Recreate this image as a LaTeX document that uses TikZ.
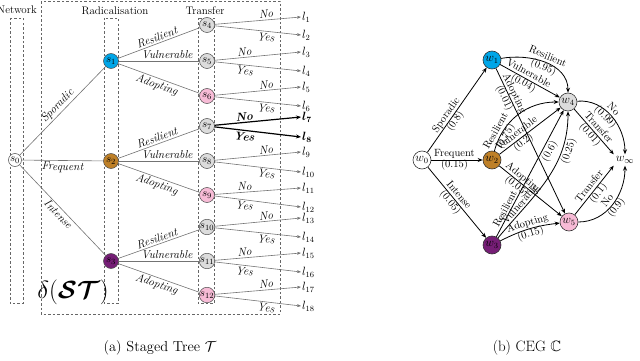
\documentclass[tikz,border=0pt]{standalone}
\usepackage{amsmath,amssymb,bm}
\usetikzlibrary{arrows.meta}
\definecolor{cyanN}{RGB}{0,166,232}
\definecolor{brownN}{RGB}{190,128,40}
\definecolor{purpN}{RGB}{118,30,118}
\definecolor{pinkN}{RGB}{247,187,214}
\definecolor{grayN}{RGB}{220,220,220}
\begin{document}
\begin{tikzpicture}[x=1pt,y=-1pt,
  tn/.style={circle,draw=black!70,line width=0.5pt,minimum size=15pt,inner sep=0pt,font=\fontsize{11}{12}\selectfont},
  te/.style={draw=black!55,line width=0.6pt},
  le/.style={draw=black!55,line width=0.6pt,-{Stealth[length=4pt,width=3pt]}},
  be/.style={draw=black,line width=1.2pt,-{Stealth[length=5pt,width=4pt]}},
  tl/.style={font=\fontsize{11.5}{12}\selectfont\itshape,sloped,inner sep=1.5pt},
  tlb/.style={font=\fontsize{11.5}{12}\selectfont\bfseries\itshape,sloped,inner sep=1.5pt},
  lf/.style={anchor=west,inner sep=1pt,font=\fontsize{12}{13}\selectfont},
  boxd/.style={draw=black!60,line width=0.5pt,dash pattern=on 2.5pt off 2pt},
  hd/.style={font=\fontsize{11}{12}\selectfont},
  cn/.style={circle,draw=black!80,line width=0.6pt,minimum size=18pt,inner sep=0pt,font=\fontsize{11.5}{12}\selectfont},
  ce/.style={draw=black,line width=0.8pt,-{Stealth[length=5pt,width=4pt]}},
  cl/.style={font=\fontsize{10.5}{11}\selectfont,sloped,align=center,inner sep=0.5pt}
]
\useasboundingbox (0,0) rectangle (640,361);
% dashed boxes
\draw[boxd] (10,18) rectangle (23,303);
\draw[boxd] (41,1.5) rectangle (280,314);
\draw[boxd] (104,18) rectangle (118,303);
\draw[boxd] (198,18) rectangle (214,303);
\node[hd] (hnet) at (17,10) {Network};
\node[hd] (hrad) at (115,11) {Radicalisation};
\node[hd] (htr) at (205,11) {Transfer};
\node[font=\fontsize{25}{27}\selectfont] (delta) at (73,292) {$\delta(\bm{\mathcal{ST}})$};
% tree nodes
\node[tn,fill=white,minimum size=13pt] (s0) at (15,160) {$s_0$};
\node[tn,fill=cyanN] (s1) at (111,61) {$s_1$};
\node[tn,fill=brownN] (s2) at (111,161) {$s_2$};
\node[tn,fill=purpN] (s3) at (111,261) {$s_3$};
\node[tn,fill=grayN] (s4) at (207,25) {$s_4$};
\node[tn,fill=grayN] (s5) at (207,61) {$s_5$};
\node[tn,fill=pinkN] (s6) at (207,96) {$s_6$};
\node[tn,fill=grayN] (s7) at (207,126) {$s_7$};
\node[tn,fill=grayN] (s8) at (207,161) {$s_8$};
\node[tn,fill=pinkN] (s9) at (207,195) {$s_9$};
\node[tn,fill=grayN] (s10) at (207,227) {$s_{10}$};
\node[tn,fill=grayN] (s11) at (207,261) {$s_{11}$};
\node[tn,fill=pinkN] (s12) at (207,295) {$s_{12}$};
% leaves
\node[lf] (l1) at (301,17) {$l_1$};
\node[lf] (l2) at (301,35) {$l_2$};
\node[lf] (l3) at (301,52) {$l_3$};
\node[lf] (l4) at (301,71) {$l_4$};
\node[lf] (l5) at (301,87) {$l_5$};
\node[lf] (l6) at (301,106) {$l_6$};
\node[lf] (l7) at (301,117) {$\bm{l_7}$};
\node[lf] (l8) at (301,137) {$\bm{l_8}$};
\node[lf] (l9) at (301,152) {$l_9$};
\node[lf] (l10) at (301,172) {$l_{10}$};
\node[lf] (l11) at (301,188) {$l_{11}$};
\node[lf] (l12) at (301,207) {$l_{12}$};
\node[lf] (l13) at (301,218) {$l_{13}$};
\node[lf] (l14) at (301,237) {$l_{14}$};
\node[lf] (l15) at (301,253) {$l_{15}$};
\node[lf] (l16) at (301,272) {$l_{16}$};
\node[lf] (l17) at (301,287) {$l_{17}$};
\node[lf] (l18) at (301,306) {$l_{18}$};
% tree edges
\draw[te] (s0) -- node[tl,above]{Sporadic} (s1);
\draw[te] (s0) -- node[tl,below]{Frequent} (s2);
\draw[te] (s0) -- node[tl,below]{Intense} (s3);
\draw[te] (s1) -- node[tl,above]{Resilient} (s4);
\draw[te] (s1) -- node[tl,above,pos=.6]{Vulnerable} (s5);
\draw[te] (s1) -- node[tl,below]{Adopting} (s6);
\draw[te] (s2) -- node[tl,above]{Resilient} (s7);
\draw[te] (s2) -- node[tl,above,pos=.6]{Vulnerable} (s8);
\draw[te] (s2) -- node[tl,below]{Adopting} (s9);
\draw[te] (s3) -- node[tl,above]{Resilient} (s10);
\draw[te] (s3) -- node[tl,above,pos=.6]{Vulnerable} (s11);
\draw[te] (s3) -- node[tl,below]{Adopting} (s12);
\draw[le] (s4) -- node[tl,above,pos=.6]{No} (l1.west);
\draw[le] (s4) -- node[tl,below,pos=.6]{Yes} (l2.west);
\draw[le] (s5) -- node[tl,above,pos=.35]{No} (l3.west);
\draw[le] (s5) -- node[tl,below,pos=.35]{Yes} (l4.west);
\draw[le] (s6) -- node[tl,above,pos=.6]{No} (l5.west);
\draw[le] (s6) -- node[tl,below,pos=.6]{Yes} (l6.west);
\draw[be] (s7) -- node[tlb,above,pos=.35]{No} (l7.west);
\draw[be] (s7) -- node[tlb,below,pos=.35]{Yes} (l8.west);
\draw[le] (s8) -- node[tl,above,pos=.6]{No} (l9.west);
\draw[le] (s8) -- node[tl,below,pos=.6]{Yes} (l10.west);
\draw[le] (s9) -- node[tl,above,pos=.35]{No} (l11.west);
\draw[le] (s9) -- node[tl,below,pos=.35]{Yes} (l12.west);
\draw[le] (s10) -- node[tl,above,pos=.6]{No} (l13.west);
\draw[le] (s10) -- node[tl,below,pos=.6]{Yes} (l14.west);
\draw[le] (s11) -- node[tl,above,pos=.35]{No} (l15.west);
\draw[le] (s11) -- node[tl,below,pos=.35]{Yes} (l16.west);
\draw[le] (s12) -- node[tl,above,pos=.6]{No} (l17.west);
\draw[le] (s12) -- node[tl,below,pos=.6]{Yes} (l18.west);
% CEG nodes
\node[cn,fill=white] (w0) at (422,160) {$w_0$};
\node[cn,fill=cyanN] (w1) at (492,60) {$w_1$};
\node[cn,fill=brownN] (w2) at (492,160) {$w_2$};
\node[cn,fill=purpN] (w3) at (492,245) {$w_3$};
\node[cn,fill=grayN] (w4) at (568,102) {$w_4$};
\node[cn,fill=pinkN] (w5) at (569,222) {$w_5$};
\node[inner sep=2pt,font=\fontsize{13}{14}\selectfont] (winf) at (625,160) {$w_\infty$};
% CEG edges
\draw[ce] (w0) -- node[cl,pos=.4]{Sporadic\\(0.8)} (w1);
\draw[ce] (w0) -- node[cl,pos=.45]{Frequent\\(0.15)} (w2);
\draw[ce] (w0) -- node[cl,pos=.45]{Intense\\(0.05)} (w3);
\draw[ce] (w1) to[out=10,in=90] node[cl,pos=.5]{Resilient\\(0.95)} (w4);
\draw[ce] (w1) -- node[cl,pos=.43]{Vulnerable\\(0.04)} (w4);
\draw[ce] (w1) -- node[cl,pos=.19]{Adopting\\(0.01)} (w5);
\draw[ce] (w2) to[out=75,in=180] node[cl,pos=.2]{Resilient\\(0.75)} (w4);
\draw[ce] (w2) -- node[cl,pos=.34]{Vulnerable\\(0.2)} (w4);
\draw[ce] (w2) -- node[cl,pos=.33]{Adopting\\(0.05)} (w5);
\draw[ce] (w3) -- node[cl,pos=.2,above=1pt]{Resilient} node[cl,pos=.7,below=1pt]{(0.6)} (w4);
\draw[ce] (w3) to[out=50,in=-90] node[cl,pos=.25,above=1pt]{Vulnerable} node[cl,pos=.75,below=1pt]{(0.25)} (w4);
\draw[ce] (w3) to[bend left=10] node[cl]{Adopting\\(0.15)} (w5);
\draw[ce] (w4) to[out=5,in=90] node[cl,pos=.45]{No\\(0.99)} (winf.north);
\draw[ce] (w4) -- node[cl]{Transfer\\(0.01)} (winf.north west);
\draw[ce] (w5) -- node[cl]{Transfer\\(0.1)} (winf.south west);
\draw[ce] (w5) to[out=0,in=-90] node[cl,pos=.5]{No\\(0.9)} (winf.south);
% captions
\node[font=\fontsize{14.5}{16}\selectfont] (capa) at (160,348) {(a) Staged Tree $\mathcal{T}$};
\node[font=\fontsize{15}{16}\selectfont] (capb) at (527,348) {(b) CEG $\mathbb{C}$};
\end{tikzpicture}
\end{document}
